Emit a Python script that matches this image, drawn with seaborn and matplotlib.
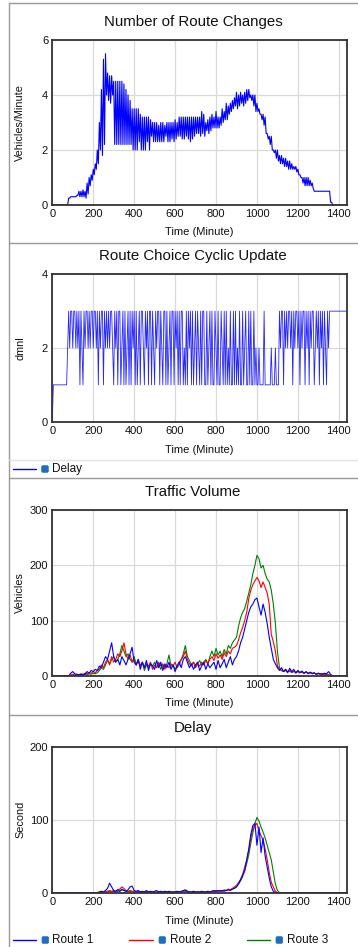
import numpy as np
import pandas as pd
import seaborn as sns
import matplotlib
matplotlib.use("Agg")
import matplotlib.pyplot as plt
from matplotlib.patches import FancyBboxPatch

# ---------------- data ----------------
# time grid: every 10 minutes, 0..1440
time10 = list(range(0, 1441, 10))
# time grid: every 5 minutes, 0..1440
time5 = list(range(0, 1441, 5))

# Number of route changes: upper and lower envelope every 10 minutes
changes_hi = [
    0, 0, 0, 0, 0, 0, 0, 0, 0.25, 0.3,
    0.3, 0.3, 0.35, 0.5, 0.5, 0.55, 0.5, 0.8, 1.0, 1.1,
    1.3, 1.5, 2.0, 3.0, 4.2, 5.3, 5.5, 4.8, 4.7, 4.7,
    4.5, 4.5, 4.5, 4.5, 4.5, 4.4, 4.2, 4.0, 3.8, 3.5,
    3.5, 3.5, 3.5, 3.3, 3.2, 3.2, 3.2, 3.2, 3.1, 3.0,
    3.0, 3.0, 2.9, 3.0, 3.0, 2.9, 3.0, 3.0, 3.0, 3.0,
    3.1, 3.0, 3.2, 3.2, 3.2, 3.2, 3.2, 3.2, 3.2, 3.2,
    3.2, 3.2, 3.2, 3.4, 3.3, 3.0, 3.1, 3.2, 3.3, 3.2,
    3.4, 3.2, 3.2, 3.5, 3.4, 3.7, 3.6, 3.7, 3.8, 3.9,
    4.1, 4.0, 4.1, 4.0, 4.1, 4.2, 4.2, 4.0, 4.0, 4.0,
    3.7, 3.5, 3.3, 3.3, 3.2, 2.6, 2.5, 2.5, 2.0, 2.0,
    2.0, 1.8, 1.8, 1.7, 1.7, 1.6, 1.6, 1.5, 1.4, 1.4,
    1.3, 1.1, 1.0, 1.0, 1.0, 1.0, 0.9, 0.8, 0.5, 0.5,
    0.5, 0.5, 0.5, 0.5, 0.5, 0.5, 0.1, 0, 0, 0,
    0, 0, 0, 0, 0,
]
changes_lo = [
    0, 0, 0, 0, 0, 0, 0, 0, 0.25, 0.3,
    0.3, 0.3, 0.35, 0.3, 0.3, 0.3, 0.25, 0.4, 0.7, 0.9,
    1.1, 1.3, 1.5, 2.0, 1.8, 2.2, 4.0, 3.8, 3.7, 4.0,
    2.2, 2.2, 2.2, 2.2, 2.2, 2.2, 2.2, 2.2, 2.2, 2.0,
    2.0, 2.0, 2.3, 2.0, 2.0, 2.0, 2.3, 2.0, 2.5, 2.3,
    2.3, 2.3, 2.3, 2.3, 2.3, 2.5, 2.3, 2.3, 2.4, 2.3,
    2.4, 2.5, 2.5, 2.4, 2.4, 2.5, 2.4, 2.3, 2.4, 2.5,
    2.6, 2.6, 2.5, 2.6, 2.5, 2.7, 2.6, 2.7, 2.8, 2.8,
    2.8, 2.8, 2.9, 3.0, 3.1, 3.1, 3.3, 3.4, 3.5, 3.6,
    3.5, 3.6, 3.7, 3.6, 3.7, 3.8, 3.9, 3.8, 3.6, 3.4,
    3.4, 3.3, 3.1, 2.9, 2.6, 2.4, 2.2, 2.0, 1.9, 1.7,
    1.6, 1.5, 1.5, 1.4, 1.4, 1.3, 1.3, 1.3, 1.3, 1.2,
    1.1, 1.0, 0.8, 0.7, 0.7, 0.7, 0.7, 0.6, 0.5, 0.5,
    0.5, 0.5, 0.5, 0.5, 0.5, 0.5, 0.1, 0, 0, 0,
    0, 0, 0, 0, 0,
]

# Route choice cyclic update (dmnl), every 5 minutes
cyclic = [
    0, 1, 1, 1, 1, 1, 1, 1, 1, 1, 1, 1, 1, 1, 1, 2, 3, 2, 3, 3,
    2, 3, 3, 2, 3, 2, 3, 1, 3, 2, 1, 3, 2, 3, 3, 2, 3, 2, 3, 3,
    2, 3, 3, 2, 3, 1, 3, 2, 3, 3, 1, 3, 2, 3, 2, 3, 2, 3, 3, 2,
    1, 3, 2, 3, 1, 3, 3, 1, 2, 3, 1, 3, 1, 2, 3, 1, 3, 1, 3, 2,
    3, 1, 3, 1, 2, 3, 1, 3, 3, 2, 1, 3, 2, 3, 1, 3, 3, 1, 3, 2,
    1, 3, 2, 3, 3, 1, 3, 2, 1, 3, 3, 1, 3, 1, 2, 3, 1, 3, 3, 1,
    3, 2, 3, 1, 3, 1, 3, 3, 1, 2, 1, 3, 1, 3, 2, 3, 1, 3, 1, 2,
    3, 1, 3, 2, 1, 3, 1, 3, 3, 1, 1, 3, 1, 2, 3, 1, 3, 1, 1, 3,
    2, 1, 3, 1, 1, 3, 2, 1, 3, 1, 3, 1, 2, 1, 3, 1, 1, 3, 1, 3,
    1, 2, 1, 3, 1, 1, 3, 1, 2, 3, 1, 1, 3, 1, 3, 1, 1, 3, 1, 2,
    1, 1, 2, 1, 1, 1, 1, 3, 1, 1, 1, 1, 1, 1, 2, 1, 1, 1, 2, 1,
    1, 1, 3, 2, 3, 3, 1, 3, 2, 3, 2, 3, 3, 2, 3, 1, 3, 2, 3, 3,
    2, 3, 1, 3, 2, 3, 3, 1, 3, 2, 3, 1, 3, 2, 3, 3, 1, 2, 3, 2,
    3, 1, 3, 2, 3, 1, 3, 2, 1, 3, 2, 3, 3, 3, 3, 3, 3, 3, 3, 3,
    3, 3, 3, 3, 3, 3, 3, 3, 3,
]

# Traffic volume (vehicles), every 10 minutes
volume_route1 = [
    0, 0, 0, 0, 0, 0, 0, 0, 0, 5,
    8, 4, 3, 2, 3, 2, 4, 8, 5, 10,
    8, 12, 10, 18, 15, 25, 35, 30, 45, 60,
    35, 25, 30, 20, 35, 28, 20, 30, 40, 52,
    25, 20, 30, 12, 25, 15, 28, 10, 22, 18,
    12, 28, 15, 25, 10, 22, 15, 25, 12, 20,
    8, 18, 25, 15, 30, 35, 25, 15, 22, 12,
    20, 25, 10, 18, 25, 12, 22, 15, 20, 25,
    12, 28, 15, 22, 30, 15, 25, 35, 20, 30,
    35, 45, 60, 70, 85, 100, 115, 125, 130, 138,
    141, 125, 110, 130, 115, 95, 70, 50, 30, 22,
    15, 10, 15, 8, 12, 6, 14, 8, 12, 5,
    10, 6, 9, 5, 8, 4, 7, 5, 6, 3,
    5, 4, 3, 5, 4, 8, 3, 0, 0, 0,
    0, 0, 0, 0, 0,
]
volume_route2 = [
    0, 0, 0, 0, 0, 0, 0, 0, 0, 2,
    3, 2, 3, 2, 4, 3, 5, 4, 6, 5,
    8, 6, 10, 12, 20, 15, 25, 30, 20, 35,
    25, 30, 40, 35, 45, 60, 40, 30, 38, 25,
    30, 20, 28, 18, 25, 15, 22, 18, 25, 12,
    20, 15, 25, 18, 22, 12, 20, 15, 22, 18,
    25, 15, 20, 30, 35, 45, 30, 22, 18, 25,
    15, 22, 18, 25, 20, 28, 22, 30, 35, 28,
    40, 32, 38, 30, 42, 35, 45, 40, 50, 52,
    55, 65, 78, 88, 100, 115, 140, 155, 165, 172,
    178, 172, 160, 170, 160, 150, 130, 75, 62, 45,
    18, 12, 10, 8, 12, 8, 10, 7, 9, 6,
    8, 6, 7, 5, 7, 5, 6, 4, 5, 4,
    5, 3, 4, 3, 2, 2, 1, 0, 0, 0,
    0, 0, 0, 0, 0,
]
volume_route3 = [
    0, 0, 0, 0, 0, 0, 0, 0, 0, 0,
    0, 0, 0, 0, 0, 2, 3, 2, 4, 3,
    5, 4, 6, 10, 15, 12, 20, 28, 22, 30,
    35, 25, 30, 40, 55, 45, 35, 40, 30, 25,
    35, 20, 30, 18, 25, 10, 20, 15, 22, 18,
    25, 15, 22, 12, 20, 15, 22, 38, 18, 20,
    12, 18, 25, 30, 40, 55, 35, 28, 20, 25,
    18, 22, 28, 20, 25, 30, 22, 35, 45, 35,
    50, 38, 45, 35, 48, 40, 55, 50, 60, 65,
    70, 90, 105, 115, 122, 135, 150, 165, 185, 200,
    218, 212, 195, 200, 185, 175, 170, 155, 130, 95,
    45, 15, 10, 8, 10, 7, 9, 6, 8, 7,
    9, 6, 8, 5, 7, 5, 6, 4, 5, 3,
    4, 3, 4, 2, 3, 2, 1, 0, 0, 0,
    0, 0, 0, 0, 0,
]

# Delay (seconds), every 10 minutes
delay_route1 = [
    0, 0, 0, 0, 0, 0, 0, 0, 0, 0,
    0, 0, 0, 0, 0, 0, 0, 0, 0, 0,
    0, 0, 0, 1, 2, 1, 3, 6, 13, 8,
    3, 2, 4, 2, 5, 3, 2, 4, 8, 9,
    3, 2, 3, 1, 2, 1, 3, 1, 2, 1,
    2, 3, 1, 2, 1, 2, 1, 2, 1, 1,
    1, 2, 1, 2, 3, 4, 2, 1, 1, 2,
    1, 1, 1, 2, 1, 1, 2, 1, 2, 3,
    2, 3, 2, 3, 2, 3, 4, 3, 5, 6,
    8, 12, 18, 24, 30, 45, 60, 80, 92, 95,
    65, 90, 55, 75, 50, 35, 20, 8, 2, 0,
    0, 0, 0, 0, 0, 0, 0, 0, 0, 0,
    0, 0, 0, 0, 0, 0, 0, 0, 0, 0,
    0, 0, 0, 0, 0, 0, 0, 0, 0, 0,
    0, 0, 0, 0, 0,
]
delay_route2 = [
    0, 0, 0, 0, 0, 0, 0, 0, 0, 0,
    0, 0, 0, 0, 0, 0, 0, 0, 0, 0,
    0, 0, 0, 1, 1, 1, 2, 2, 3, 2,
    3, 2, 4, 5, 8, 6, 3, 2, 3, 2,
    2, 1, 2, 1, 1, 1, 2, 1, 1, 1,
    1, 1, 1, 1, 1, 1, 1, 1, 1, 1,
    1, 1, 1, 1, 2, 3, 2, 1, 1, 1,
    1, 1, 1, 1, 1, 1, 1, 1, 2, 1,
    3, 2, 3, 2, 4, 3, 5, 4, 6, 8,
    10, 14, 18, 25, 35, 45, 58, 75, 88, 92,
    95, 85, 78, 72, 60, 45, 28, 14, 8, 2,
    0, 0, 0, 0, 0, 0, 0, 0, 0, 0,
    0, 0, 0, 0, 0, 0, 0, 0, 0, 0,
    0, 0, 0, 0, 0, 0, 0, 0, 0, 0,
    0, 0, 0, 0, 0,
]
delay_route3 = [
    0, 0, 0, 0, 0, 0, 0, 0, 0, 0,
    0, 0, 0, 0, 0, 0, 0, 0, 0, 0,
    0, 0, 0, 0, 0, 1, 1, 1, 2, 1,
    2, 1, 2, 2, 4, 3, 2, 1, 2, 1,
    1, 1, 1, 1, 1, 0, 1, 0, 1, 0,
    1, 0, 1, 0, 1, 0, 1, 1, 0, 1,
    0, 1, 1, 1, 2, 2, 1, 1, 0, 1,
    0, 1, 0, 1, 1, 1, 1, 1, 2, 1,
    2, 2, 3, 2, 3, 3, 4, 4, 5, 6,
    8, 12, 16, 22, 30, 40, 52, 68, 82, 95,
    103, 98, 90, 83, 75, 65, 55, 45, 28, 12,
    3, 0, 0, 0, 0, 0, 0, 0, 0, 0,
    0, 0, 0, 0, 0, 0, 0, 0, 0, 0,
    0, 0, 0, 0, 0, 0, 0, 0, 0, 0,
    0, 0, 0, 0, 0,
]

titles = ["Number of Route Changes", "Route Choice Cyclic Update",
          "Traffic Volume", "Delay"]
ylabels = ["Vehicles/Minute", "dmnl", "Vehicles", "Second"]
xlabel = "Time (Minute)"
xticks = [0, 200, 400, 600, 800, 1000, 1200, 1400]
yticks = [[0, 2, 4, 6], [0, 2, 4], [0, 100, 200, 300], [0, 100, 200]]
route_names = ["Route 1", "Route 2", "Route 3"]
route_colors = ["#0000ff", "#ff0000", "#008000"]

# ---------------- figure ----------------
sns.set_theme(style="white")
plt.rcParams["font.family"] = ["Liberation Sans", "DejaVu Sans"]

W, H = 358, 947
fig = plt.figure(figsize=(W / 100, H / 100), dpi=100)
fig.patch.set_facecolor("white")

AX_L, AX_R = 52.3, 347.0
panels_px = [(40.0, 205.0), (274.3, 421.7), (510.0, 676.0), (746.7, 892.7)]


def make_axes(top, bot):
    return fig.add_axes([AX_L / W, 1 - bot / H, (AX_R - AX_L) / W, (bot - top) / H])


axes = [make_axes(t, b) for t, b in panels_px]

# panel 1: interleave the upper/lower envelope
t_env = []
v_env = []
for t, hi, lo in zip(time10, changes_hi, changes_lo):
    t_env += [t, t + 5]
    v_env += [hi, lo]
df1 = pd.DataFrame({"t": t_env, "v": v_env})
sns.lineplot(data=df1, x="t", y="v", ax=axes[0], color="#0000ff", lw=0.8,
             estimator=None, sort=False, legend=False)

df2 = pd.DataFrame({"t": time5, "v": cyclic})
sns.lineplot(data=df2, x="t", y="v", ax=axes[1], color="#0000ff", lw=0.6,
             alpha=0.85, estimator=None, sort=False, legend=False)

vols = [volume_route1, volume_route2, volume_route3]
dels = [delay_route1, delay_route2, delay_route3]
for k in [2, 1, 0]:
    d = pd.DataFrame({"t": time10, "v": vols[k]})
    sns.lineplot(data=d, x="t", y="v", ax=axes[2], color=route_colors[k], lw=0.8,
                 estimator=None, sort=False, legend=False)
    d = pd.DataFrame({"t": time10, "v": dels[k]})
    sns.lineplot(data=d, x="t", y="v", ax=axes[3], color=route_colors[k], lw=0.8,
                 estimator=None, sort=False, legend=False)

for ax, yt in zip(axes, yticks):
    ax.set_xlim(0, 1440)
    ax.set_ylim(yt[0], yt[-1])
    ax.set_xticks(xticks)
    ax.set_yticks(yt)
    ax.set_xlabel("")
    ax.set_ylabel("")
    ax.grid(True, color="#d9d9d9", lw=0.9)
    ax.set_axisbelow(True)
    ax.set_facecolor("white")
    for s in ax.spines.values():
        s.set_visible(True)
        s.set_color("#333333")
        s.set_linewidth(1.3)
    ax.tick_params(length=0, pad=3, labelsize=8, colors="#111111")

# ---------------- overlay for titles, labels, frames, legends ----------------
ov = fig.add_axes([0, 0, 1, 1], zorder=5)
ov.set_xlim(0, W)
ov.set_ylim(H, 0)
ov.axis("off")

title_y = [22, 256, 492, 728]
xlabel_y = [232, 450, 703, 921]
for i, (t, b) in enumerate(panels_px):
    ov.text(193, title_y[i], titles[i], ha="center", va="center", fontsize=10.8,
            color="#111111")
    ov.text((AX_L + AX_R) / 2, xlabel_y[i], xlabel, ha="center", va="center",
            fontsize=8, color="#111111")
    ov.text(20, (t + b) / 2, ylabels[i], ha="center", va="center", rotation=90,
            fontsize=7.8, color="#111111")

# panel frames
fc = "#9a9a9a"
ov.plot([9, 9], [3, H], color=fc, lw=1.0)
for y in [3, 243, 478, 715]:
    ov.plot([9, W], [y, y], color=fc, lw=1.0)
ov.plot([9, W], [460, 460], color="#e2e2e2", lw=1.0)

box_c = "#1b6ec2"


def legend_item(x_line0, x_line1, x_box, x_text, y, color, label):
    ov.plot([x_line0, x_line1], [y, y], color=color, lw=1.0)
    ov.add_patch(FancyBboxPatch((x_box, y - 3.3), 6.6, 6.6,
                                boxstyle="round,pad=0,rounding_size=1.2",
                                fc=box_c, ec=box_c, lw=0.5))
    ov.text(x_text, y, label, ha="left", va="center", fontsize=8.5, color="#111111")


legend_item(13, 36, 41.7, 52, 469, "#0000ff", "Delay")
leg_x = [(13, 36, 42, 52), (129, 153, 159, 170), (247, 270, 276, 287)]
for (a, b, c, d), col, name in zip(leg_x, route_colors, route_names):
    legend_item(a, b, c, d, 940, col, name)

fig.savefig("out.png", dpi=100, facecolor="white")
